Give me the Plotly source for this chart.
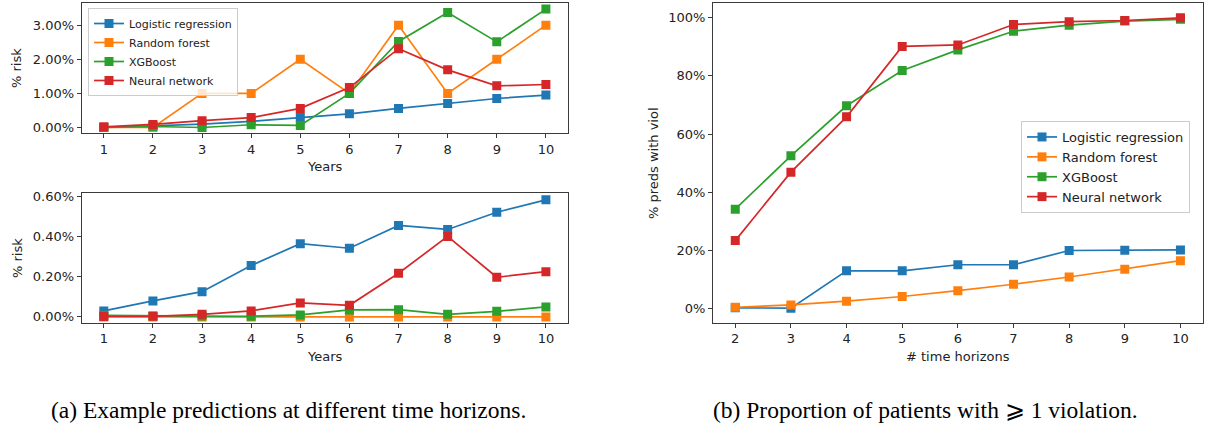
import plotly.graph_objects as go

models = ["Logistic regression", "Random forest", "XGBoost", "Neural network"]
colors = ["#1f77b4", "#ff7f0e", "#2ca02c", "#d62728"]

years = [1, 2, 3, 4, 5, 6, 7, 8, 9, 10]

# Panel (a) top: % risk
top_lr = [0.00, 0.05, 0.10, 0.18, 0.29, 0.40, 0.56, 0.70, 0.85, 0.95]
top_rf = [0.00, 0.00, 1.00, 1.00, 2.00, 1.00, 3.00, 1.00, 2.00, 3.00]
top_xgb = [0.00, 0.03, 0.00, 0.08, 0.06, 1.00, 2.52, 3.37, 2.51, 3.47]
top_nn = [0.02, 0.09, 0.20, 0.29, 0.56, 1.17, 2.31, 1.69, 1.22, 1.26]
top_ticks = [0, 1, 2, 3]
top_ticklabels = ["0.00%", "1.00%", "2.00%", "3.00%"]

# Panel (a) bottom: % risk
bot_lr = [0.030, 0.080, 0.126, 0.257, 0.366, 0.343, 0.457, 0.437, 0.523, 0.585]
bot_rf = [0.000, 0.000, 0.000, 0.000, 0.000, 0.000, 0.000, 0.000, 0.000, 0.000]
bot_xgb = [0.008, 0.005, 0.004, 0.003, 0.010, 0.035, 0.036, 0.013, 0.028, 0.050]
bot_nn = [0.002, 0.003, 0.013, 0.030, 0.070, 0.058, 0.218, 0.402, 0.198, 0.226]
bot_ticks = [0, 0.2, 0.4, 0.6]
bot_ticklabels = ["0.00%", "0.20%", "0.40%", "0.60%"]

# Panel (b): % preds with violation
horizons = [2, 3, 4, 5, 6, 7, 8, 9, 10]
viol_lr = [0.3, 0.2, 13.0, 13.0, 15.1, 15.1, 20.0, 20.1, 20.2]
viol_rf = [0.5, 1.3, 2.6, 4.2, 6.2, 8.4, 10.9, 13.6, 16.5]
viol_xgb = [34.2, 52.5, 69.7, 81.8, 88.9, 95.3, 97.4, 98.8, 99.4]
viol_nn = [23.4, 46.9, 65.9, 90.1, 90.6, 97.6, 98.6, 99.0, 99.9]
viol_ticks = [0, 20, 40, 60, 80, 100]
viol_ticklabels = ["0%", "20%", "40%", "60%", "80%", "100%"]

W, H = 1208, 429
def px(x):
    return x / W
def py(y):
    return 1 - y / H

fig = go.Figure()

groups = [
    ("x", "y", years, [top_lr, top_rf, top_xgb, top_nn], "legend"),
    ("x2", "y2", years, [bot_lr, bot_rf, bot_xgb, bot_nn], None),
    ("x3", "y3", horizons, [viol_lr, viol_rf, viol_xgb, viol_nn], "legend2"),
]
for xa, ya, xs, series, leg in groups:
    for name, col, vals in zip(models, colors, series):
        fig.add_trace(go.Scatter(
            x=xs, y=vals, name=name, mode="lines+markers",
            line=dict(color=col, width=1.7),
            marker=dict(symbol="square", size=9, color=col),
            xaxis=xa, yaxis=ya,
            showlegend=leg is not None,
            legend=leg if leg else "legend",
        ))

FONT = "DejaVu Sans"
axis_common = dict(
    showline=True, linecolor="#3a3a3a", linewidth=1, mirror=True,
    ticks="outside", ticklen=4, tickcolor="#3a3a3a", tickwidth=1,
    showgrid=False, zeroline=False, automargin=False,
    tickfont=dict(family=FONT, size=13, color="#222"),
)

fig.update_layout(
    template="none",
    width=W, height=H,
    margin=dict(l=0, r=0, t=0, b=0),
    paper_bgcolor="white", plot_bgcolor="white",
    font=dict(family=FONT, color="#222"),
    xaxis=dict(domain=[px(81.7), px(568)], range=[0.55, 10.45], tickvals=years, anchor="y", **axis_common),
    yaxis=dict(domain=[py(133.3), py(3.3)], range=[-0.17, 3.64], tickvals=top_ticks,
               ticktext=top_ticklabels, anchor="x", **axis_common),
    xaxis2=dict(domain=[px(81.7), px(568)], range=[0.55, 10.45], tickvals=years, anchor="y2", **axis_common),
    yaxis2=dict(domain=[py(322.7), py(193)], range=[-0.029, 0.619], tickvals=bot_ticks,
                ticktext=bot_ticklabels, anchor="x2", **axis_common),
    xaxis3=dict(domain=[px(713), px(1202.7)], range=[1.6, 10.4], tickvals=horizons, anchor="y3", **axis_common),
    yaxis3=dict(domain=[py(322.7), py(3.3)], range=[-4.8, 104.9], tickvals=viol_ticks,
                ticktext=viol_ticklabels, anchor="x3", **axis_common),
    legend=dict(x=px(88), y=py(8), xanchor="left", yanchor="top",
                bgcolor="rgba(255,255,255,0.8)", bordercolor="#cccccc", borderwidth=1,
                font=dict(family=FONT, size=11, color="#222"), tracegroupgap=0),
    legend2=dict(x=px(1021), y=py(121), xanchor="left", yanchor="top",
                 bgcolor="rgba(255,255,255,0.8)", bordercolor="#cccccc", borderwidth=1,
                 font=dict(family=FONT, size=13, color="#222"), tracegroupgap=0),
)

def ann(text, x, y, size=13, angle=0, family=FONT, color="#222"):
    fig.add_annotation(text=text, x=px(x), y=py(y), xref="paper", yref="paper",
                       showarrow=False, textangle=angle, xanchor="center", yanchor="middle",
                       font=dict(family=family, size=size, color=color))

ann("Years", 325, 166)
ann("Years", 325, 356)
ann("% risk", 17, 68, angle=-90)
ann("% risk", 17, 258, angle=-90)
ann("% preds with viol", 653, 163, angle=-90)
ann("# time horizons", 958, 356)
ann("(a) Example predictions at different time horizons.", 288.5, 410, size=23.5,
    family="Liberation Serif", color="#000")
ann("(b) Proportion of patients with ⩾ 1 violation.", 925, 410, size=23.5,
    family="Liberation Serif", color="#000")

# remove the page's default body margin so the figure sits at the window origin
fig.write_html("out.html", config={"displayModeBar": False},
               post_script="document.body.style.margin='0';")
